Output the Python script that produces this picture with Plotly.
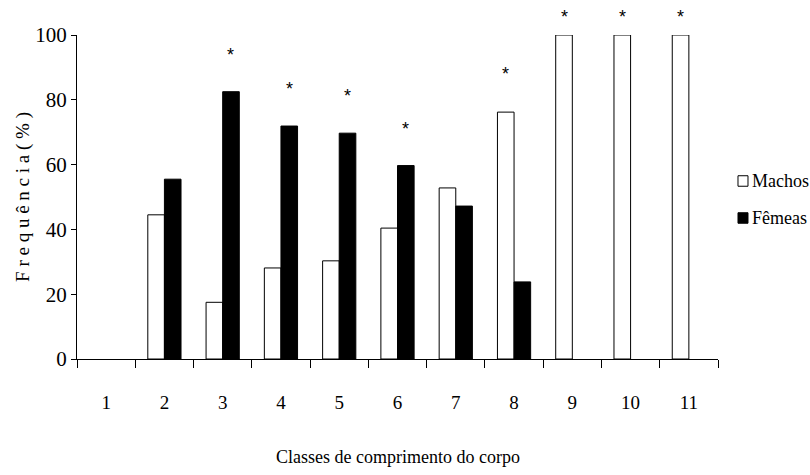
import plotly.graph_objects as go

classes = [1, 2, 3, 4, 5, 6, 7, 8, 9, 10, 11]
class_labels = ["1", "2", "3", "4", "5", "6", "7", "8", "9", "10", "11"]
machos = [0, 44.5, 17.5, 28.1, 30.3, 40.4, 52.8, 76.2, 100, 100, 100]
femeas = [0, 55.5, 82.5, 71.9, 69.7, 59.7, 47.2, 23.8, 0, 0, 0]
# classes with a significant difference (*) and the height of the star
significant = [False, False, True, True, True, True, False, True, True, True, True]
star_level = [None, None, 94.8, 84.3, 82.0, 71.9, None, 89.0, 106.5, 106.5, 106.5]
y_ticks = [0, 20, 40, 60, 80, 100]

SERIF = "Liberation Serif, Times New Roman, serif"
BARGAP = 0.43
half_w = (1 - BARGAP) / 4  # offset of each bar centre from the class centre
Y_MAX = y_ticks[-1]


def hide_zero(vals):
    return [v if v else None for v in vals]


fig = go.Figure()
fig.add_trace(go.Bar(
    x=classes, y=hide_zero(machos), name="Machos",
    marker=dict(color="white", line=dict(color="black", width=1)),
))
fig.add_trace(go.Bar(
    x=classes, y=hide_zero(femeas), name="Fêmeas",
    marker=dict(color="black", line=dict(color="black", width=1)),
))

# significance stars above the taller bar of each class
for c, m, f, s, lvl in zip(classes, machos, femeas, significant, star_level):
    if s:
        sx = c - half_w if m >= f else c + half_w
        fig.add_annotation(x=sx, xref="x", y=lvl / Y_MAX, yref="y domain",
                           text="*", showarrow=False,
                           yanchor="middle", yshift=-3,
                           font=dict(family="Liberation Sans, Arial", size=18, color="black"))

# legend drawn manually (square + label)
legend_items = [("Machos", "white", 0.5494), ("Fêmeas", "black", 0.4352)]
for name, fill, yc in legend_items:
    fig.add_shape(type="rect", xref="paper", yref="paper",
                  x0=1.0312, x1=1.0468, y0=yc - 0.0162, y1=yc + 0.0162,
                  fillcolor=fill, line=dict(color="black", width=1))
    fig.add_annotation(x=1.0499, y=yc, xref="paper", yref="paper", text=name,
                       showarrow=False, xanchor="left", yanchor="middle",
                       font=dict(family=SERIF, size=18, color="black"))

fig.update_layout(
    width=810, height=475,
    margin=dict(l=77, r=92, t=35, b=116),
    paper_bgcolor="white", plot_bgcolor="white",
    barmode="group", bargap=BARGAP, bargroupgap=0,
    font=dict(family=SERIF, size=18, color="black"),
    showlegend=False,
)

fig.update_xaxes(
    range=[0.5, 11.5], tickmode="array", tickvals=classes, ticktext=class_labels,
    ticks="", ticklabelstandoff=26, showgrid=False, zeroline=False,
    showline=True, linecolor="black", linewidth=1,
    tickfont=dict(family=SERIF, size=19, color="black"),
    minor=dict(tickmode="array", tickvals=[c - 0.5 for c in classes] + [classes[-1] + 0.5],
               ticks="outside", ticklen=8, tickcolor="black", tickwidth=1, showgrid=False),
)
fig.update_yaxes(
    range=[0, Y_MAX], tickmode="array", tickvals=y_ticks,
    ticks="outside", ticklen=5, tickcolor="black", tickwidth=1,
    showgrid=False, zeroline=False, showline=True, linecolor="black", linewidth=1,
    tickfont=dict(family=SERIF, size=21, color="black"),
    title=dict(text="F r e q u ê n c i a ( % )", standoff=0,
               font=dict(family=SERIF, size=19, color="black")),
)

fig.add_annotation(x=0.5, y=-0.302, xref="paper", yref="paper",
                   text="Classes de comprimento do corpo", showarrow=False,
                   yanchor="middle", xanchor="center",
                   font=dict(family=SERIF, size=18, color="black"))

fig.write_html("out.html")
